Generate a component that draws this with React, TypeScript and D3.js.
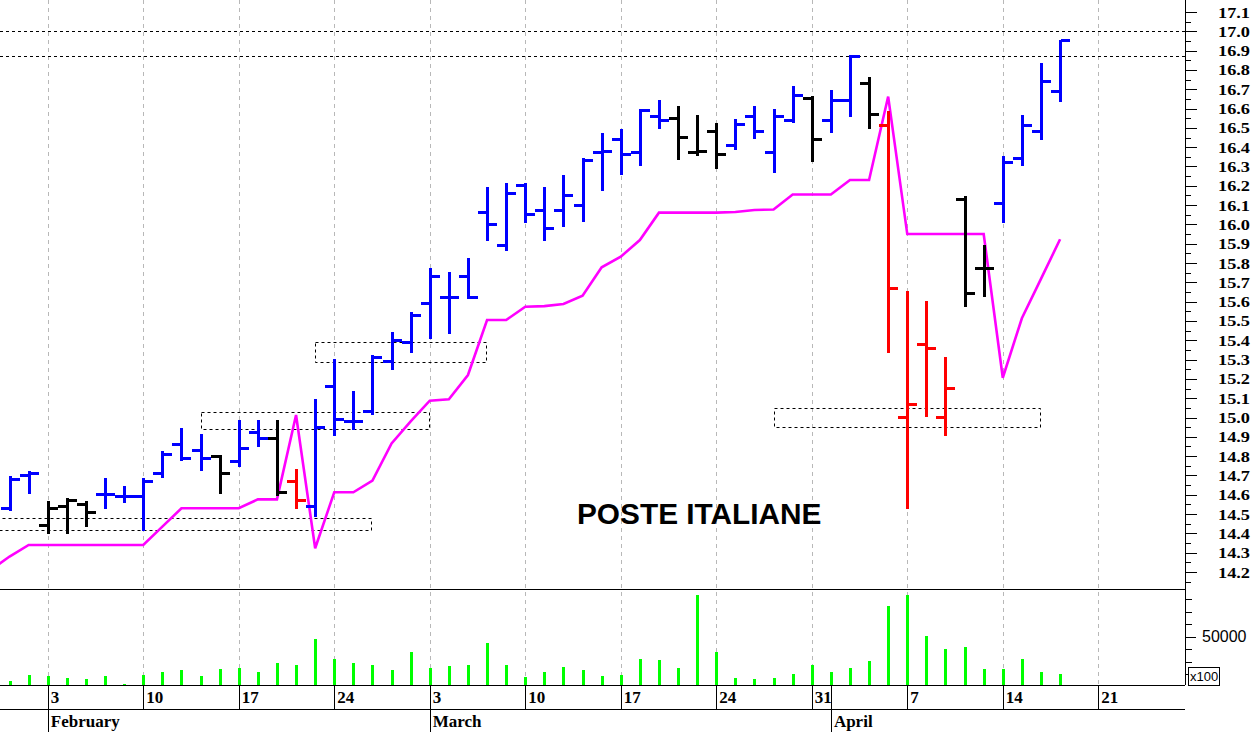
import React from "react";
import * as d3 from "d3";

// ---------- DATA ----------
const dates = [
  "2025-01-29", "2025-01-30", "2025-01-31",
  "2025-02-03", "2025-02-04", "2025-02-05", "2025-02-06", "2025-02-07",
  "2025-02-10", "2025-02-11", "2025-02-12", "2025-02-13", "2025-02-14",
  "2025-02-17", "2025-02-18", "2025-02-19", "2025-02-20", "2025-02-21",
  "2025-02-24", "2025-02-25", "2025-02-26", "2025-02-27", "2025-02-28",
  "2025-03-03", "2025-03-04", "2025-03-05", "2025-03-06", "2025-03-07",
  "2025-03-10", "2025-03-11", "2025-03-12", "2025-03-13", "2025-03-14",
  "2025-03-17", "2025-03-18", "2025-03-19", "2025-03-20", "2025-03-21",
  "2025-03-24", "2025-03-25", "2025-03-26", "2025-03-27", "2025-03-28",
  "2025-03-31", "2025-04-01", "2025-04-02", "2025-04-03", "2025-04-04",
  "2025-04-07", "2025-04-08", "2025-04-09", "2025-04-10", "2025-04-11",
  "2025-04-14", "2025-04-15", "2025-04-16", "2025-04-17",
];

const open = [
  null, 14.53, 14.70,
  14.44, 14.54, 14.55, 14.60, 14.59,
  14.59, 14.71, 14.86, 14.83, 14.80,
  14.77, 14.92, 14.89, 14.67, 14.54,
  15.16, 14.98, 15.03, 15.29, 15.39,
  15.59, 15.62, 15.73, 16.06, 15.89,
  16.20, 16.07, 16.07, 16.10, 16.37,
  16.44, 16.37, 16.56, 16.55, 16.37,
  16.48, 16.41, 16.56, 16.37, 16.54,
  16.65, 16.54, 16.64, 16.73, 16.51,
  15.00, 15.38, 15.00, 16.13, 15.77,
  16.11, 16.34, 16.48, 16.69,
];
const high = [
  null, 14.69, 14.72,
  14.56, 14.58, 14.56, 14.68, 14.64,
  14.68, 14.82, 14.94, 14.91, 14.80,
  14.98, 14.98, 14.98, 14.73, 15.09,
  15.30, 15.13, 15.32, 15.44, 15.54,
  15.77, 15.75, 15.82, 16.19, 16.21,
  16.21, 16.19, 16.25, 16.34, 16.47,
  16.49, 16.59, 16.64, 16.61, 16.56,
  16.52, 16.54, 16.61, 16.59, 16.71,
  16.66, 16.69, 16.87, 16.76, 16.58,
  15.65, 15.60, 15.31, 16.14, 15.89,
  16.35, 16.56, 16.83, 16.95,
];
const low = [
  null, 14.52, 14.61,
  14.40, 14.40, 14.44, 14.53, 14.56,
  14.42, 14.69, 14.78, 14.73, 14.61,
  14.75, 14.85, 14.60, 14.53, 14.49,
  14.91, 14.94, 15.02, 15.25, 15.34,
  15.41, 15.44, 15.62, 15.92, 15.87,
  16.01, 15.92, 15.99, 16.02, 16.18,
  16.26, 16.31, 16.50, 16.34, 16.36,
  16.29, 16.39, 16.45, 16.27, 16.53,
  16.33, 16.48, 16.56, 16.50, 15.34,
  14.53, 15.01, 14.91, 15.58, 15.63,
  16.01, 16.31, 16.44, 16.64,
];
const close = [
  null, 14.68, 14.71,
  14.53, 14.57, 14.51, 14.60, 14.59,
  14.67, 14.81, 14.79, 14.79, 14.71,
  14.84, 14.89, 14.61, 14.57, 14.95,
  14.99, 14.98, 15.31, 15.40, 15.53,
  15.73, 15.62, 15.62, 16.00, 16.16,
  16.05, 15.98, 16.15, 16.33, 16.38,
  16.36, 16.59, 16.54, 16.45, 16.38,
  16.36, 16.52, 16.48, 16.56, 16.67,
  16.44, 16.64, 16.87, 16.57, 15.67,
  15.07, 15.36, 15.15, 15.64, 15.77,
  16.32, 16.51, 16.74, 16.95,
];
// u = blue, n = black, d = red
const barState = [
  null, "u", "u",
  "n", "n", "n", "u", "u",
  "u", "u", "u", "u", "n",
  "u", "u", "n", "d", "u",
  "u", "u", "u", "u", "u",
  "u", "u", "u", "u", "u",
  "u", "u", "u", "u", "u",
  "u", "u", "u", "n", "n",
  "n", "u", "u", "u", "u",
  "n", "u", "u", "n", "d",
  "d", "d", "d", "n", "n",
  "u", "u", "u", "u",
];
const volume = [
  null, 14700, 19200,
  18400, 16800, 16000, 18400, 12200,
  19200, 21600, 23000, 18200, 23800,
  25100, 21600, 28600, 27300, 48200,
  31800, 28600, 27300, 23000, 38000,
  25100, 26500, 27300, 44700, 27300,
  17900, 21600, 25400, 23000, 18200,
  19200, 31800, 31000, 24600, 83300,
  37700, 16600, 15800, 16600, 20300,
  27000, 21400, 24600, 30700, 74400,
  83300, 50300, 39900, 42000, 23800,
  23800, 31800, 21600, 20300,
];
const refLine = [
  14.21, 14.28, 14.34,
  14.34, 14.34, 14.34, 14.34, 14.34,
  14.34, 14.435, 14.53, 14.53, 14.53,
  14.53, 14.576, 14.576, 15.013, 14.323,
  14.613, 14.613, 14.673, 14.866, 14.98,
  15.087, 15.094, 15.22, 15.505, 15.505,
  15.574, 15.577, 15.588, 15.631, 15.778,
  15.833, 15.919, 16.061, 16.061, 16.061,
  16.061, 16.064, 16.075, 16.077, 16.155,
  16.155, 16.155, 16.23, 16.23, 16.662,
  15.95, 15.95, 15.95, 15.95, 15.95,
  15.206, 15.514, 15.718, 15.923,
];

const zoneStart = ["2025-01-29", "2025-02-13", "2025-02-21", "2025-03-27"];
const zoneEnd = ["2025-02-26", "2025-03-03", "2025-03-06", "2025-04-16"];
const zoneLow = [14.42, 14.94, 15.29, 14.95];
const zoneHigh = [14.48, 15.03, 15.39, 15.05];

const levelLines = [17.0, 16.87];

const weekTicks = [
  "2025-02-03", "2025-02-10", "2025-02-17", "2025-02-24", "2025-03-03", "2025-03-10",
  "2025-03-17", "2025-03-24", "2025-03-31", "2025-04-07", "2025-04-14", "2025-04-21",
];
const monthTicks = ["2025-02-03", "2025-03-03", "2025-04-01"];
const priceTicks = d3.range(142, 172).map((v) => v / 10);
const volumeTicks = [20000, 30000, 40000, 50000, 60000, 70000, 80000];
const volumeLabelled = [50000];
const title = "POSTE ITALIANE";

// ---------- HELPERS ----------
const parse = d3.timeParse("%Y-%m-%d");
const base = parse("2025-01-27") as Date;
function wIndex(s: string): number {
  const d = parse(s) as Date;
  const days = d3.timeDay.count(base, d);
  return Math.floor(days / 7) * 5 + (days % 7);
}
const fmtDay = d3.timeFormat("%-d");
const fmtMonth = d3.timeFormat("%B");

const W = 1256;
const H = 732;
const AX = 1185; // right axis x
const PRICE_BOTTOM = 589;
const VOL_BOTTOM = 685;
const DATE_ROW = 709;

const x = d3.scaleLinear().domain([2.5, 64.54]).range([0, AX]);
const y = d3.scaleLinear().domain([14.2, 17.1]).range([572, 12]);
const vy = d3.scaleLinear().domain([50000, 80000]).range([636.7, 599.3]);

const COLORS: Record<string, string> = { u: "#0000ff", n: "#000000", d: "#ff0000" };
const serif = "'Liberation Serif', 'Times New Roman', serif";
const sans = "'Liberation Sans', Arial, sans-serif";

export default function App() {
  const idx = dates.map(wIndex);

  const linePath = d3
    .line<number>()
    .x((_, i) => x(idx[i]))
    .y((v) => y(v))(refLine) as string;

  return (
    <svg
      width={W}
      height={H}
      style={{ position: "absolute", left: 0, top: 0, background: "#fff" }}
    >
      <defs>
        <clipPath id="pclip">
          <rect x={0} y={0} width={AX} height={PRICE_BOTTOM} />
        </clipPath>
        <clipPath id="vclip">
          <rect x={0} y={PRICE_BOTTOM + 1} width={AX} height={VOL_BOTTOM - PRICE_BOTTOM - 1} />
        </clipPath>
      </defs>
      <rect x={0} y={0} width={W} height={H} fill="#fff" />

      {/* vertical grid */}
      {weekTicks.map((d) => {
        const xx = Math.round(x(wIndex(d))) + 0.5;
        return (
          <line
            key={"g" + d}
            x1={xx}
            x2={xx}
            y1={0}
            y2={VOL_BOTTOM}
            stroke="#b8b8b8"
            strokeDasharray="4 4"
            strokeWidth={1}
          />
        );
      })}

      <g clipPath="url(#pclip)">
        {/* level lines */}
        {levelLines.map((v) => {
          const yy = Math.round(y(v)) + 0.5;
          return (
            <line
              key={"l" + v}
              x1={0}
              x2={AX}
              y1={yy}
              y2={yy}
              stroke="#000"
              strokeDasharray="3 3"
              strokeWidth={1}
            />
          );
        })}
        {/* zones */}
        {zoneStart.map((s, i) => {
          const x0 = Math.round(x(wIndex(s))) + 0.5;
          const x1 = Math.round(x(wIndex(zoneEnd[i]))) - 0.5;
          const y0 = Math.round(y(zoneHigh[i])) + 0.5;
          const y1 = Math.round(y(zoneLow[i])) + 0.5;
          return (
            <rect
              key={"z" + i}
              x={x0}
              y={y0}
              width={x1 - x0}
              height={y1 - y0}
              fill="none"
              stroke="#000"
              strokeDasharray="3 3"
              strokeWidth={1}
            />
          );
        })}
        {/* reference line */}
        <path d={linePath} fill="none" stroke="#ff00ff" strokeWidth={2.6} strokeLinejoin="miter" />
        {/* OHLC bars */}
        {dates.map((d, i) => {
          if (open[i] == null) return null;
          const cx = Math.round(x(idx[i]));
          const c = COLORS[barState[i] as string];
          const yH = y(high[i] as number);
          const yL = y(low[i] as number);
          const yO = y(open[i] as number);
          const yC = y(close[i] as number);
          return (
            <g key={"b" + d} shapeRendering="crispEdges">
              <rect x={cx - 1.5} y={yH - 1} width={3} height={yL - yH + 2} fill={c} />
              <rect x={cx - 9} y={yO - 1.5} width={8} height={3} fill={c} />
              <rect x={cx + 1} y={yC - 1.5} width={9} height={3} fill={c} />
            </g>
          );
        })}
        <text
          x={577}
          y={524}
          fontFamily={sans}
          fontWeight="bold"
          fontSize={29.8}
          fill="#000"
        >
          {title}
        </text>
      </g>

      {/* volume */}
      <g clipPath="url(#vclip)" shapeRendering="crispEdges">
        {dates.map((d, i) => {
          if (volume[i] == null) return null;
          const cx = Math.round(x(idx[i]));
          const top = vy(volume[i] as number);
          return (
            <rect
              key={"v" + d}
              x={cx - 1.5}
              y={top}
              width={3.5}
              height={VOL_BOTTOM - top}
              fill="#00ff00"
            />
          );
        })}
      </g>

      {/* frame lines */}
      <g stroke="#000" strokeWidth={1} shapeRendering="crispEdges">
        <line x1={0} x2={AX} y1={PRICE_BOTTOM + 0.5} y2={PRICE_BOTTOM + 0.5} />
        <line x1={0} x2={AX} y1={VOL_BOTTOM + 0.5} y2={VOL_BOTTOM + 0.5} />
        <line x1={0} x2={AX} y1={DATE_ROW + 0.5} y2={DATE_ROW + 0.5} />
        <line x1={AX + 0.5} x2={AX + 0.5} y1={0} y2={VOL_BOTTOM} />
      </g>

      {/* price axis */}
      <g shapeRendering="crispEdges">
        {priceTicks.map((v) => {
          const yy = Math.round(y(v)) + 0.5;
          const ym = Math.round(y(v + 0.05)) + 0.5;
          return (
            <g key={"pt" + v}>
              <line x1={AX} x2={AX + 12} y1={yy} y2={yy} stroke="#000" />
              {v < 17.1 && <line x1={AX} x2={AX + 6} y1={ym} y2={ym} stroke="#000" />}
            </g>
          );
        })}
        <line x1={AX} x2={AX + 6} y1={Math.round(y(14.15)) + 0.5} y2={Math.round(y(14.15)) + 0.5} stroke="#000" />
      </g>
      {priceTicks.map((v) => (
        <text
          key={"pl" + v}
          x={1218}
          y={y(v) + 5.5}
          fontFamily={serif}
          fontWeight="bold"
          fontSize={14}
          textLength={32}
          lengthAdjust="spacingAndGlyphs"
          fill="#000"
        >
          {v.toFixed(1)}
        </text>
      ))}

      {/* volume axis */}
      <g shapeRendering="crispEdges">
        {volumeTicks.map((v) => {
          const yy = Math.round(vy(v)) + 0.5;
          const long = volumeLabelled.includes(v);
          return <line key={"vt" + v} x1={AX} x2={AX + (long ? 11 : 7)} y1={yy} y2={yy} stroke="#000" />;
        })}
      </g>
      {volumeLabelled.map((v) => (
        <text key={"vl" + v} x={1202} y={vy(v) + 5.5} fontFamily={sans} fontSize={16} fill="#000">
          {v}
        </text>
      ))}
      <rect x={1188.5} y={667.5} width={31} height={18} fill="#fff" stroke="#000" shapeRendering="crispEdges" />
      <text x={1190} y={681} fontFamily={sans} fontSize={13} fill="#000">
        x100
      </text>

      {/* date axis */}
      <g stroke="#000" shapeRendering="crispEdges">
        {weekTicks.map((d) => {
          const xx = Math.round(x(wIndex(d))) + 0.5;
          return <line key={"wt" + d} x1={xx} x2={xx} y1={VOL_BOTTOM} y2={DATE_ROW} />;
        })}
        {monthTicks.map((d) => {
          const xx = Math.round(x(wIndex(d))) + 0.5;
          return <line key={"mt" + d} x1={xx} x2={xx} y1={VOL_BOTTOM} y2={H} />;
        })}
      </g>
      {weekTicks.map((d) => (
        <text
          key={"wl" + d}
          x={x(wIndex(d)) + 3}
          y={703}
          fontFamily={serif}
          fontWeight="bold"
          fontSize={17}
          fill="#000"
        >
          {fmtDay(parse(d) as Date)}
        </text>
      ))}
      {monthTicks.map((d) => (
        <text
          key={"ml" + d}
          x={x(wIndex(d)) + 3}
          y={727}
          fontFamily={serif}
          fontWeight="bold"
          fontSize={17}
          fill="#000"
        >
          {fmtMonth(parse(d) as Date)}
        </text>
      ))}
    </svg>
  );
}
